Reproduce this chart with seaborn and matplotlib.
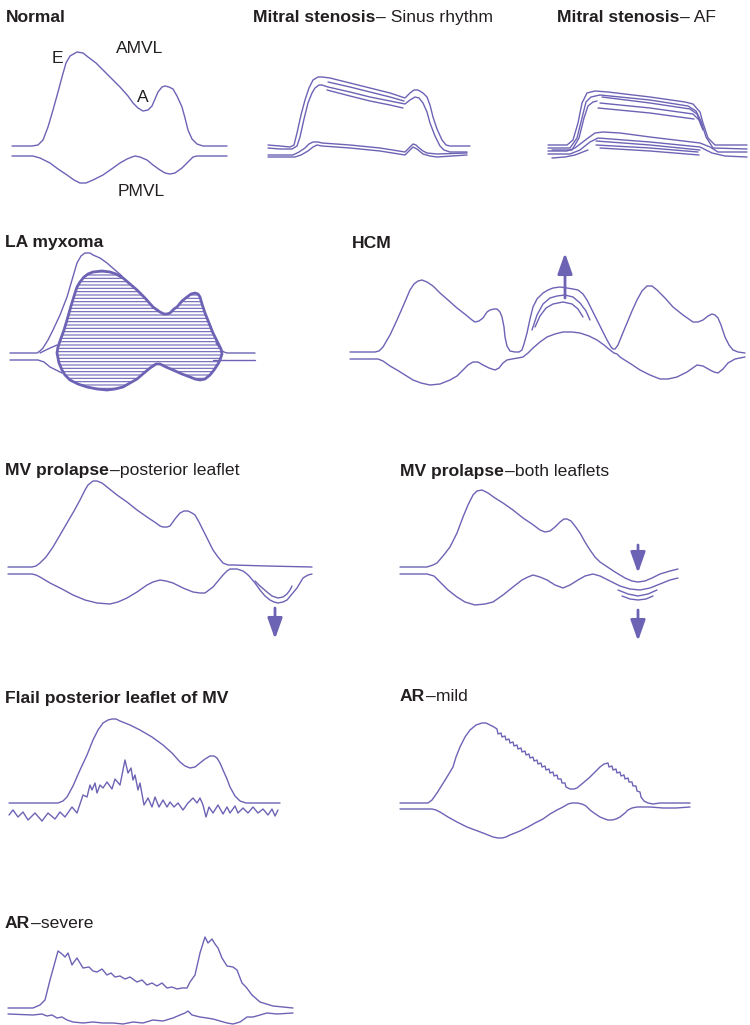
import matplotlib
matplotlib.use("Agg")
import matplotlib.pyplot as plt
import seaborn as sns
import pandas as pd
from matplotlib.patches import Polygon

# ---------------- text ----------------
TITLES_BOLD = ["Normal", "Mitral stenosis", "Mitral stenosis", "LA myxoma", "HCM",
               "MV prolapse", "MV prolapse", "Flail posterior leaflet of MV", "AR", "AR"]
TITLES_REG = ["", "\u2013 Sinus rhythm", "\u2013 AF", "", "",
              "\u2013posterior leaflet", "\u2013both leaflets", "", "\u2013mild", "\u2013severe"]
TITLE_POS = [(6, 22), (253, 22), (557, 22), (5, 247), (352, 248),
             (5, 475), (400, 476), (5, 703), (400, 701), (5, 928)]
LABELS = ["E", "AMVL", "A", "PMVL"]
LABEL_POS = [(52, 63), (116, 53), (137, 102), (118, 196)]

# ---------------- curves (x, y) ----------------
NORMAL_AMVL = [(12,146),(32,146),(38,145),(43,140),(48,127),(53,110),(58,92),(62,77),(66,63),(70,56),(77,52),(83,53),(88,57),(96,63),(103,70),(112,79),(120,87),(128,96),(133,103),(138,108),(143,111),(148,110),(152,106),(155,99),(158,92),(162,87),(165,86),(169,87),(173,89),(177,96),(182,107),(185,118),(188,130),(192,139),(197,144),(203,146),(227,146)]
NORMAL_PMVL = [(12,156),(33,156),(40,158),(50,163),(58,169),(67,175),(74,180),(80,183),(86,183),(93,180),(103,175),(113,168),(120,163),(127,159),(132,157),(135,156),(140,157),(147,160),(153,165),(160,170),(165,173),(170,174),(175,173),(182,168),(188,162),(193,157),(197,156),(227,156)]

MS_SR_A1 = [(268,145),(280,146),(290,147),(294,145),(297,133),(301,115),(305,100),(309,88),(313,80),(318,77),(322,77),(330,78),(350,83),(370,88),(390,93),(405,98),(410,93),(414,90),(418,90),(423,93),(427,97),(430,105),(433,117),(437,129),(442,140),(446,145),(450,146),(470,146)]
MS_SR_A2 = [(268,148),(280,149),(292,149),(297,146),(300,137),(304,119),(308,103),(312,93),(315,88),(319,85),(322,85),(328,87),(350,92),(370,97),(390,101),(405,104),(410,100),(415,97),(419,98),(423,103),(427,112),(430,123),(435,136),(440,146),(444,150),(450,152),(467,152)]
MS_SR_A3 = [(328,82),(350,87),(370,92),(390,97),(404,101)]
MS_SR_A4 = [(327,90),(350,96),(370,101),(390,105),(403,108)]
MS_SR_P1 = [(268,155),(285,155),(293,155),(299,152),(305,148),(309,144),(313,142),(318,142),(322,143),(350,145),(380,148),(405,152),(409,148),(413,144),(416,145),(418,147),(423,151),(427,153),(437,154),(467,153)]
MS_SR_P2 = [(268,157),(285,157),(295,157),(301,155),(308,151),(313,147),(317,145),(322,146),(350,148),(380,151),(405,155),(409,151),(413,147),(417,149),(423,154),(430,156),(437,157),(467,155)]

AF_U1 = [(548,145),(567,145),(573,140),(578,123),(582,103),(587,93),(595,91),(608,92),(650,97),(685,102),(693,104),(700,112),(703,123),(708,138),(715,145),(747,145)]
AF_U2 = [(548,148),(570,148),(577,138),(582,118),(586,102),(591,97),(600,95),(650,100),(688,106),(696,111),(701,121),(706,137),(713,148),(747,149)]
AF_U3 = [(552,150),(572,150),(579,138),(584,118),(588,106),(593,102),(597,101)]
AF_U4 = [(602,97),(650,103),(690,109),(697,114),(702,127)]
AF_U5 = [(600,103),(650,108),(693,114),(699,120),(703,130)]
AF_U6 = [(598,108),(650,113),(694,119)]
AF_L1 = [(548,151),(567,151),(575,148),(588,138),(595,133),(603,132),(620,133),(650,137),(700,143),(710,147),(718,152),(747,152)]
AF_L2 = [(548,154),(570,154),(580,150),(590,142),(598,138),(650,142),(700,147),(712,153),(725,156),(747,157)]
AF_L3 = [(552,158),(565,157),(575,155),(588,150)]
AF_L4 = [(596,141),(650,145),(700,150)]
AF_L5 = [(596,145),(650,148),(698,152)]
AF_L6 = [(600,148),(650,151),(699,155)]

MYX_AMVL = [(10,353),(37,353),(40,351),(43,348),(48,340),(53,330),(60,315),(67,297),(72,280),(77,263),(81,256),(85,253),(90,253),(93,255),(100,258),(107,263),(115,270),(122,276)]
MYX_AMVL_R = [(216,343),(219,347),(221,350),(224,352),(227,353),(255,353)]
MYX_PMVL = [(10,360),(38,360),(44,362),(50,367),(56,370),(62,373)]
MYX_PMVL_R = [(213,360),(255,360)]
MYX_BRANCH = [(40,353),(48,349),(57,345)]
MYX_SHAPE = [(80,282),(84,277),(88,274),(93,272),(102,271),(110,272),(116,274),(123,278),(130,284),(137,290),(145,298),(153,307),(160,312),(164,314),(167,314),(170,313),(174,309),(177,307),(182,301),(187,297),(191,294),(195,293),(198,294),(200,297),(202,304),(205,313),(209,323),(213,333),(218,343),(221,349),(222,354),(220,360),(218,364),(214,370),(210,375),(205,379),(200,380),(195,379),(190,377),(182,374),(173,370),(166,367),(160,364),(156,364),(150,368),(144,373),(137,379),(130,383),(123,387),(115,389),(107,390),(97,389),(87,387),(78,384),(70,380),(65,375),(62,370),(59,363),(57,353),(58,347),(60,341),(64,330),(67,320),(71,306),(75,293),(77,287)]

HCM_AMVL = [(350,352),(375,352),(379,351),(383,347),(390,335),(397,320),(404,304),(410,290),(414,284),(418,281),(422,280),(427,282),(433,286),(440,293),(448,300),(457,308),(466,315),(472,320),(475,322),(479,321),(483,318),(487,312),(490,310),(494,309),(497,309),(500,312),(502,317),(504,327),(505,337),(507,346),(510,351),(515,352),(519,352),(522,350),(524,344),(527,333),(530,319),(533,307),(537,299),(543,293),(548,290),(553,288),(560,287),(567,288),(573,289),(578,290),(583,294),(587,300),(592,310),(597,320),(602,330),(607,340),(611,347),(613,349),(615,349),(618,345),(622,335),(627,323),(632,311),(637,300),(642,291),(647,286),(652,286),(657,290),(665,298),(673,307),(683,315),(693,322),(698,322),(703,320),(708,316),(712,314),(715,315),(718,318),(721,325),(725,337),(729,345),(733,350),(738,352),(745,353)]
HCM_ARC1 = [(532,330),(537,315),(543,304),(550,298),(557,296),(565,295),(573,297),(580,303),(586,311),(590,320)]
HCM_ARC2 = [(535,327),(540,316),(546,308),(553,304),(563,302),(572,304),(578,309),(583,317)]
HCM_PMVL = [(350,359),(378,359),(383,361),(390,366),(397,370),(405,375),(413,380),(421,383),(430,385),(440,384),(450,380),(457,376),(463,370),(468,365),(473,362),(478,362),(483,365),(489,368),(495,370),(499,368),(503,363),(507,360),(512,359),(518,358),(523,357),(528,353),(533,348),(540,342),(547,337),(555,334),(563,332),(572,332),(580,333),(589,336),(597,340),(604,345),(610,350),(614,353),(617,354),(620,357),(623,359),(631,364),(640,370),(650,375),(660,379),(668,379),(677,377),(687,372),(697,365),(703,366),(710,370),(714,372),(718,373),(723,369),(728,363),(735,359),(745,357)]

MVP_AMVL = [(8,567),(32,567),(36,566),(40,563),(46,557),(53,547),(60,535),(67,523),(74,511),(80,500),(85,490),(88,485),(93,481),(97,481),(102,483),(107,487),(117,495),(127,502),(137,510),(147,517),(156,523),(160,526),(163,527),(167,527),(170,526),(175,519),(180,513),(184,511),(188,511),(192,513),(195,515),(199,522),(203,530),(208,540),(213,550),(218,557),(223,563),(228,565),(233,565),(267,566),(312,567)]
MVP_PMVL = [(8,574),(32,574),(36,575),(40,577),(50,583),(62,589),(73,595),(85,600),(97,603),(110,604),(118,602),(127,598),(137,592),(147,585),(153,582),(160,580),(166,581),(173,583),(183,588),(193,592),(200,593),(205,593),(209,590),(213,587),(218,581),(223,575),(227,571),(230,569),(237,569),(243,571),(247,574),(250,577),(255,583),(260,590),(265,596),(270,600),(274,602),(278,603),(283,602),(287,600),(292,594),(297,588),(300,583),(303,578),(308,575),(312,574)]
MVP_ARC = [(255,581),(260,586),(267,592),(272,596),(278,598),(283,597),(287,594),(290,590),(292,586)]

MVB_AMVL = [(400,567),(427,567),(433,565),(437,563),(443,556),(450,547),(457,533),(463,517),(468,505),(473,495),(477,491),(482,490),(488,493),(495,498),(503,503),(513,510),(523,518),(532,524),(540,530),(545,532),(550,531),(555,527),(560,522),(564,519),(567,519),(571,521),(575,526),(580,533),(585,542),(590,550),(595,557),(600,562),(606,566),(615,572),(625,578),(632,581),(638,582),(645,581),(652,578),(660,574),(670,571),(678,569)]
MVB_PMVL = [(400,574),(427,574),(434,576),(440,582),(448,590),(457,597),(465,602),(475,605),(485,604),(493,602),(503,595),(513,587),(522,580),(528,577),(533,575),(540,577),(547,580),(555,585),(563,588),(570,585),(578,580),(585,576),(593,574),(600,576),(610,581),(620,586),(630,589),(640,590),(650,588),(660,584),(670,580),(678,578)]
MVB_ARC1 = [(618,590),(628,594),(638,596),(648,594),(657,590)]
MVB_ARC2 = [(622,596),(630,599),(638,600),(646,599),(653,596)]

FLAIL_AMVL = [(9,803),(58,803),(63,801),(67,797),(73,786),(80,770),(87,755),(93,740),(98,730),(103,723),(108,720),(112,719),(116,719),(120,721),(130,725),(140,730),(152,737),(163,745),(172,753),(180,762),(185,766),(190,768),(195,767),(200,763),(205,759),(210,756),(214,756),(217,758),(220,763),(223,770),(227,779),(230,787),(235,796),(240,801),(246,803),(253,803),(280,803)]
FLAIL_PMVL = [(9,815),(13,810),(18,817),(23,812),(28,820),(35,813),(42,821),(48,813),(55,819),(60,812),(65,817),(72,807),(77,813),(83,795),(87,797),(90,785),(92,790),(95,783),(97,793),(100,785),(103,788),(107,782),(112,789),(115,779),(120,785),(125,760),(128,773),(131,768),(133,780),(135,775),(138,790),(140,783),(144,805),(148,798),(152,807),(155,797),(159,807),(163,800),(167,807),(170,802),(174,807),(178,803),(183,810),(188,803),(193,798),(197,803),(200,798),(203,805),(206,817),(209,807),(213,813),(218,805),(223,814),(227,807),(230,813),(235,806),(238,813),(243,808),(248,813),(253,807),(258,813),(263,809),(268,815),(272,809),(275,816),(278,810)]

ARM_AMVL = [(400,803),(428,803),(432,800),(437,793),(442,785),(447,777),(450,772),(453,767),(456,757),(460,747),(465,737),(470,730),(476,725),(482,723),(486,723),(490,725),(494,727),(497,729),(498,734),(501,733),(502,737),(505,736),(506,740),(509,739),(510,743),(513,742),(514,746),(517,745),(518,749),(521,748),(522,752),(525,751),(526,755),(529,754),(530,758),(533,757),(534,761),(537,760),(538,764),(541,763),(542,767),(545,766),(546,770),(549,769),(550,773),(553,772),(554,776),(557,775),(558,779),(561,779),(562,783),(565,783),(566,787),(570,789),(574,789),(577,788),(583,783),(590,777),(595,772),(600,767),(604,764),(608,763),(609,767),(612,766),(613,770),(616,769),(617,773),(620,772),(621,776),(624,775),(625,779),(628,778),(629,782),(632,782),(633,786),(636,786),(637,791),(640,792),(641,797),(644,801),(648,803),(653,804),(660,803),(667,803),(690,803)]
ARM_PMVL = [(400,809),(432,809),(436,810),(440,812),(448,817),(457,822),(467,827),(475,830),(483,833),(493,837),(498,838),(502,838),(506,837),(510,835),(520,831),(528,827),(535,823),(543,819),(550,814),(557,810),(563,807),(568,804),(572,803),(577,803),(582,804),(586,806),(590,810),(594,813),(600,817),(605,819),(608,820),(612,820),(616,819),(620,817),(625,813),(628,810),(632,808),(637,807),(650,807),(663,808),(676,808),(690,807)]

ARS_AMVL = [(8,1008),(33,1008),(40,1005),(45,1000),(50,980),(55,962),(58,951),(62,954),(65,957),(68,953),(72,965),(74,962),(77,958),(83,968),(89,967),(93,971),(97,972),(102,969),(107,975),(111,973),(115,977),(120,976),(125,979),(130,977),(137,982),(142,980),(147,985),(152,983),(157,986),(162,983),(167,988),(172,987),(177,989),(182,988),(187,988),(190,982),(195,975),(200,953),(205,937),(208,943),(212,939),(215,944),(218,948),(222,958),(227,966),(233,967),(237,970),(242,983),(246,987),(252,995),(260,1002),(273,1006),(293,1008)]
ARS_PMVL = [(8,1014),(33,1015),(42,1014),(47,1016),(52,1015),(57,1018),(62,1017),(67,1020),(73,1022),(83,1023),(93,1022),(103,1023),(113,1023),(123,1024),(133,1022),(143,1023),(153,1020),(163,1021),(173,1018),(180,1015),(185,1013),(188,1011),(192,1015),(200,1017),(207,1018),(213,1019),(220,1021),(227,1023),(233,1024),(240,1022),(247,1017),(253,1017),(260,1015),(267,1013),(277,1014),(293,1013)]

ARROWS = [((565, 298), (565, 253)), ((275, 608), (275, 639)),
          ((638, 545), (638, 573)), ((638, 610), (638, 641))]

THIN_CURVES = [NORMAL_AMVL, NORMAL_PMVL, MS_SR_A1, MS_SR_A2, MS_SR_A3, MS_SR_A4, MS_SR_P1, MS_SR_P2,
               AF_U1, AF_U2, AF_U3, AF_U4, AF_U5, AF_U6, AF_L1, AF_L2, AF_L3, AF_L4, AF_L5, AF_L6,
               MYX_AMVL, MYX_AMVL_R, MYX_PMVL, MYX_PMVL_R, MYX_BRANCH,
               HCM_AMVL, HCM_ARC1, HCM_ARC2, HCM_PMVL,
               MVP_AMVL, MVP_PMVL, MVP_ARC, MVB_AMVL, MVB_PMVL, MVB_ARC1, MVB_ARC2,
               FLAIL_AMVL, FLAIL_PMVL, ARM_AMVL, ARM_PMVL, ARS_AMVL, ARS_PMVL]

LINE = "#6c63b5"
TEXT = "#231f20"
FONT = ["Liberation Sans", "DejaVu Sans"]
FS = 12.6

sns.set_theme(style="white")
plt.rcParams["font.family"] = FONT
plt.rcParams["hatch.linewidth"] = 0.8

fig = plt.figure(figsize=(7.5, 10.25), dpi=100)
ax = fig.add_axes([0, 0, 1, 1])
ax.set_xlim(0, 750)
ax.set_ylim(1025, 0)
ax.axis("off")

for pts in THIN_CURVES:
    df = pd.DataFrame(pts, columns=["x", "y"])
    sns.lineplot(data=df, x="x", y="y", sort=False, estimator=None, ax=ax,
                 color=LINE, linewidth=1.0)

# LA myxoma hatched mass
ax.add_patch(Polygon(MYX_SHAPE, closed=True, facecolor="none", edgecolor=LINE,
                     hatch="-----", linewidth=0))
ax.add_patch(Polygon(MYX_SHAPE, closed=True, facecolor="none", edgecolor=LINE,
                     linewidth=2.0, joinstyle="round"))

for tail, tip in ARROWS:
    ax.annotate("", xy=tip, xytext=tail,
                arrowprops=dict(arrowstyle="-|>,head_length=0.9,head_width=0.32",
                                color=LINE, lw=2.0, shrinkA=0, shrinkB=0,
                                mutation_scale=14))

ax.set_xlabel("")
ax.set_ylabel("")

renderer = fig.canvas.get_renderer()
inv = ax.transData.inverted()
for bold, reg, (x, y) in zip(TITLES_BOLD, TITLES_REG, TITLE_POS):
    t = ax.text(x, y, bold, fontsize=FS, fontweight="bold", color=TEXT,
                va="baseline", ha="left")
    if reg:
        bb = t.get_window_extent(renderer)
        xe = inv.transform((bb.x1, bb.y0))[0]
        ax.text(xe + 1, y, reg, fontsize=FS, color=TEXT, va="baseline", ha="left")

for lab, (x, y) in zip(LABELS, LABEL_POS):
    ax.text(x, y, lab, fontsize=FS, color=TEXT, va="baseline", ha="left")

fig.savefig("out.png", dpi=100)
